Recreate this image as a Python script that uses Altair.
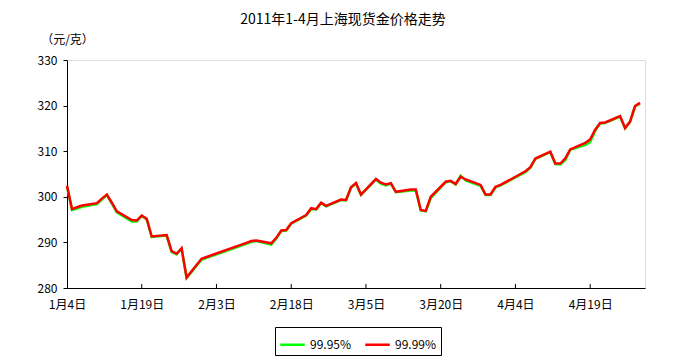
import altair as alt
import pandas as pd

dates = [
    "2011-01-04", "2011-01-05", "2011-01-06", "2011-01-07", "2011-01-10",
    "2011-01-11", "2011-01-12", "2011-01-13", "2011-01-14", "2011-01-17",
    "2011-01-18", "2011-01-19", "2011-01-20", "2011-01-21", "2011-01-24",
    "2011-01-25", "2011-01-26", "2011-01-27", "2011-01-28", "2011-01-31",
    "2011-02-01", "2011-02-09", "2011-02-10", "2011-02-11", "2011-02-14",
    "2011-02-15", "2011-02-16", "2011-02-17", "2011-02-18", "2011-02-21",
    "2011-02-22", "2011-02-23", "2011-02-24", "2011-02-25", "2011-02-28",
    "2011-03-01", "2011-03-02", "2011-03-03", "2011-03-04", "2011-03-07",
    "2011-03-08", "2011-03-09", "2011-03-10", "2011-03-11", "2011-03-14",
    "2011-03-15", "2011-03-16", "2011-03-17", "2011-03-18", "2011-03-21",
    "2011-03-22", "2011-03-23", "2011-03-24", "2011-03-25", "2011-03-28",
    "2011-03-29", "2011-03-30", "2011-03-31", "2011-04-01", "2011-04-06",
    "2011-04-07", "2011-04-08", "2011-04-11", "2011-04-12", "2011-04-13",
    "2011-04-14", "2011-04-15", "2011-04-18", "2011-04-19", "2011-04-20",
    "2011-04-21", "2011-04-22", "2011-04-25", "2011-04-26", "2011-04-27",
    "2011-04-28", "2011-04-29",
]

au9999 = [
    302.4, 297.3, 297.7, 298.1, 298.6,
    299.6, 300.5, 298.7, 296.8, 294.9,
    294.8, 295.9, 295.2, 291.3, 291.6,
    288.1, 287.5, 288.7, 282.3, 286.4,
    286.8, 289.9, 290.3, 290.4, 289.8,
    291.0, 292.6, 292.7, 294.2, 296.0,
    297.5, 297.3, 298.7, 298.0, 299.4,
    299.3, 302.1, 303.0, 300.5, 303.9,
    303.1, 302.7, 303.0, 301.1, 301.6,
    301.6, 297.1, 296.9, 300.0, 303.3,
    303.5, 302.8, 304.4, 303.8, 302.6,
    300.5, 300.5, 302.2, 302.6, 305.6,
    306.5, 308.4, 309.9, 307.3, 307.3,
    308.4, 310.4, 311.8, 312.6, 314.7,
    316.2, 316.3, 317.7, 315.1, 316.5,
    319.9, 320.6,
]

au9995 = [
    302.3, 297.1, 297.4, 297.8, 298.4,
    299.4, 300.4, 298.5, 296.6, 294.6,
    294.6, 295.8, 295.0, 291.2, 291.5,
    287.9, 287.4, 288.6, 282.2, 286.2,
    286.6, 289.7, 290.1, 290.3, 289.5,
    290.8, 292.5, 292.6, 294.1, 295.9,
    297.3, 297.2, 298.6, 297.9, 299.3,
    299.2, 302.0, 302.9, 300.4, 303.8,
    302.9, 302.5, 302.9, 301.0, 301.4,
    301.4, 297.0, 296.8, 299.7, 303.2,
    303.4, 302.7, 304.6, 303.6, 302.4,
    300.4, 300.4, 302.1, 302.5, 305.4,
    306.4, 308.3, 309.8, 307.2, 307.1,
    308.0, 310.3, 311.4, 312.0, 314.5,
    316.1, 316.2, 317.6, 315.0, 316.4,
    319.8, 320.4,
]

series_names = ["99.95%", "99.99%"]
series_colors = ["#00ff00", "#ff0000"]
y_ticks = [280, 290, 300, 310, 320, 330]
tick_dates = ["2011-01-19", "2011-02-03", "2011-02-18", "2011-03-05",
              "2011-03-20", "2011-04-04", "2011-04-19"]

n = len(dates)
df = pd.DataFrame({
    "date": dates * 2,
    "price": au9995 + au9999,
    "series": [series_names[0]] * n + [series_names[1]] * n,
})
ticks_df = pd.DataFrame({"date": tick_dates})

FONT = "Noto Sans CJK SC"

x_scale = alt.Scale(
    type="utc",
    domain=[alt.DateTime(year=2011, month=1, date=4, utc=True),
            alt.DateTime(year=2011, month=4, date=30, utc=True)],
)
x_values = [alt.DateTime(year=2011, month=int(d[5:7]), date=int(d[8:10]), utc=True)
            for d in ["2011-01-04"] + tick_dates]
y_scale = alt.Scale(domain=[280, 330], nice=False, zero=False)

lines = alt.Chart(df).mark_line(strokeWidth=2.5).encode(
    x=alt.X(
        "date:T",
        scale=x_scale,
        axis=alt.Axis(
            values=x_values,
            labelExpr="(utcmonth(datum.value)+1) + '月' + utcdate(datum.value) + '日'",
            title=None,
            grid=False,
            ticks=False,
            labelPadding=11,
            labelFontSize=12,
            labelFont=FONT,
            labelColor="black",
            domainColor="black",
            labelFlush=False,
            labelOverlap=False,
        ),
    ),
    y=alt.Y(
        "price:Q",
        scale=y_scale,
        axis=alt.Axis(
            values=y_ticks,
            title="（元/克）",
            titleAngle=0,
            titleX=0,
            titleY=-21,
            titleAlign="center",
            titleBaseline="middle",
            titleFontWeight="normal",
            titleFontSize=12,
            titleFont=FONT,
            titleColor="black",
            grid=False,
            tickSize=4,
            tickColor="black",
            domainColor="black",
            labelPadding=6,
            labelFontSize=12,
            labelFont=FONT,
            labelColor="black",
        ),
    ),
    color=alt.Color(
        "series:N",
        scale=alt.Scale(domain=series_names, range=series_colors),
        legend=alt.Legend(
            title=None,
            orient="none",
            legendX=208,
            legendY=267,
            direction="horizontal",
            strokeColor="black",
            padding=4,
            symbolType="stroke",
            symbolStrokeWidth=2.5,
            symbolSize=600,
            labelFontSize=12,
            labelFont=FONT,
            labelColor="black",
            columnPadding=8,
        ),
    ),
)

tick_marks = alt.Chart(ticks_df).mark_rule(color="black", strokeWidth=1).encode(
    x=alt.X("date:T", scale=x_scale),
    y=alt.datum(280),
    y2=alt.datum(280.9),
)

chart = alt.layer(lines, tick_marks).properties(
    width=578,
    height=228,
    title=alt.TitleParams(
        "2011年1-4月上海现货金价格走势",
        fontSize=14,
        fontWeight="normal",
        font=FONT,
        color="black",
        anchor="middle",
        dx=-13,
        offset=6,
    ),
    autosize=alt.AutoSizeParams(type="none"),
    padding={"left": 67, "top": 60, "right": 41, "bottom": 69},
).configure_view(stroke=None).configure(background="white")

chart.save("out.html", embed_options={"renderer": "svg", "actions": False})
